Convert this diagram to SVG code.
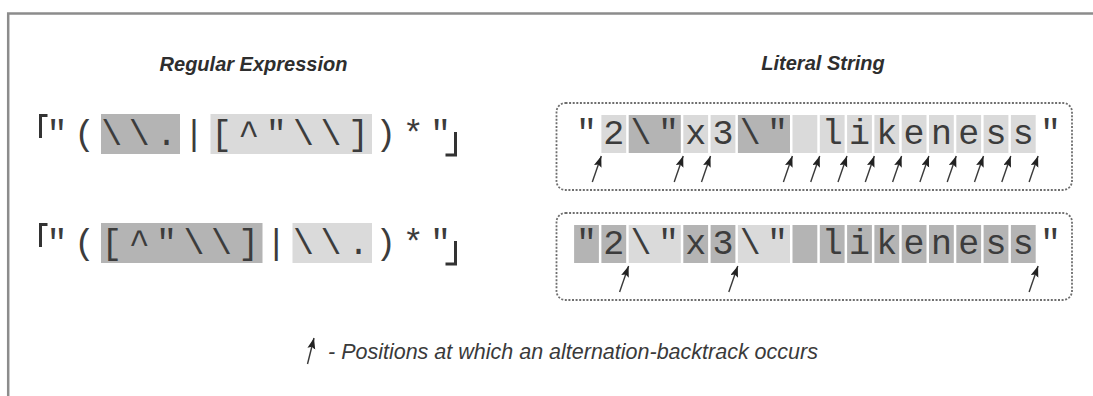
<svg xmlns="http://www.w3.org/2000/svg" width="1093" height="396" viewBox="0 0 1093 396">
<style>
.title{font-family:"Liberation Sans",Arial,sans-serif;font-weight:bold;font-style:italic;font-size:20px;fill:#2e2e2e;text-anchor:middle}
.mono{font-family:"Liberation Mono","Courier New",monospace;font-size:35px;fill:#3c3c3c;text-anchor:middle}
.lt{fill:#dadada}
.dk{fill:#b4b4b4}
.dash{fill:none;stroke:#6e6e6e;stroke-width:1.8;stroke-dasharray:2 1.6}
.corner{fill:none;stroke:#333;stroke-width:3}
.arr{stroke:#3a3a3a;stroke-width:1.4;marker-end:url(#head)}
.legend{font-family:"Liberation Sans",Arial,sans-serif;font-style:italic;font-size:21.5px;fill:#3a3a3a}
</style>
<defs>
<marker id="head" markerUnits="userSpaceOnUse" markerWidth="12" markerHeight="9" refX="11" refY="4" orient="auto">
<path d="M0,0 L11,4 L0,8 L2,4 z" fill="#222"/>
</marker>
</defs>
<rect width="1093" height="396" fill="#fff"/>
<g id="frame"><path d="M8.2,396 V13.5 H1093" fill="none" stroke="#8c8c8c" stroke-width="2.5"/></g>

<g id="title-regex"><text class="title" x="253.5" y="71">Regular Expression</text></g>
<g id="title-literal"><text class="title" x="823" y="70">Literal String</text></g>

<g id="regex1">
<rect class="dk" x="101" y="114" width="79" height="40"/>
<rect class="lt" x="210.5" y="114" width="161.5" height="40"/>
<path class="corner" d="M40.5,138 V115.5 H47.5"/>
<path class="corner" d="M445.5,155 H455.5 V132"/>
<text class="mono" x="57 84.4 111.8 139.2 166.6 194 221.4 248.8 276.2 303.6 331 358.4 385.8 413.2 440.6" y="145">"(\\.|[^"\\])*"</text>
</g>

<g id="regex2">
<rect class="dk" x="101" y="223" width="161.5" height="40"/>
<rect class="lt" x="292.5" y="223" width="79.5" height="40"/>
<path class="corner" d="M40.5,247 V224.5 H47.5"/>
<path class="corner" d="M445.5,264 H455.5 V241"/>
<text class="mono" x="57 84.4 111.8 139.2 166.6 194 221.4 248.8 276.2 303.6 331 358.4 385.8 413.2 440.6" y="254">"([^"\\]|\\.)*"</text>
</g>

<g id="literal1">
<rect class="dash" x="556.5" y="103" width="515.5" height="87" rx="9"/>
<rect class="lt" x="601.4" y="115" width="24.8" height="38"/>
<rect class="dk" x="628.7" y="115" width="52.1" height="38"/>
<rect class="lt" x="683.3" y="115" width="24.8" height="38"/>
<rect class="lt" x="710.6" y="115" width="24.8" height="38"/>
<rect class="dk" x="737.9" y="115" width="52.1" height="38"/>
<rect class="lt" x="792.5" y="115" width="24.8" height="38"/>
<rect class="lt" x="819.8" y="115" width="24.8" height="38"/>
<rect class="lt" x="847.1" y="115" width="24.8" height="38"/>
<rect class="lt" x="874.4" y="115" width="24.8" height="38"/>
<rect class="lt" x="901.7" y="115" width="24.8" height="38"/>
<rect class="lt" x="929" y="115" width="24.8" height="38"/>
<rect class="lt" x="956.3" y="115" width="24.8" height="38"/>
<rect class="lt" x="983.6" y="115" width="24.8" height="38"/>
<rect class="lt" x="1010.9" y="115" width="24.8" height="38"/>
<text class="mono" x="586.5 613.8 641.1 668.4 695.7 723 750.3 777.6 804.9 832.2 859.5 886.8 914.1 941.4 968.7 996 1023.3 1050.6" y="144">"2\"x3\" likeness"</text>
</g>

<g id="literal2">
<rect class="dash" x="556.5" y="213" width="515.5" height="87" rx="9"/>
<rect class="dk" x="574.1" y="225" width="24.8" height="38"/>
<rect class="dk" x="601.4" y="225" width="24.8" height="38"/>
<rect class="lt" x="628.7" y="225" width="52.1" height="38"/>
<rect class="dk" x="683.3" y="225" width="24.8" height="38"/>
<rect class="dk" x="710.6" y="225" width="24.8" height="38"/>
<rect class="lt" x="737.9" y="225" width="52.1" height="38"/>
<rect class="dk" x="792.5" y="225" width="24.8" height="38"/>
<rect class="dk" x="819.8" y="225" width="24.8" height="38"/>
<rect class="dk" x="847.1" y="225" width="24.8" height="38"/>
<rect class="dk" x="874.4" y="225" width="24.8" height="38"/>
<rect class="dk" x="901.7" y="225" width="24.8" height="38"/>
<rect class="dk" x="929" y="225" width="24.8" height="38"/>
<rect class="dk" x="956.3" y="225" width="24.8" height="38"/>
<rect class="dk" x="983.6" y="225" width="24.8" height="38"/>
<rect class="dk" x="1010.9" y="225" width="24.8" height="38"/>
<text class="mono" x="586.5 613.8 641.1 668.4 695.7 723 750.3 777.6 804.9 832.2 859.5 886.8 914.1 941.4 968.7 996 1023.3 1050.6" y="254">"2\"x3\" likeness"</text>
</g>

<g id="connectors">
<line class="arr" x1="592.3" y1="182" x2="601.3" y2="156"/>
<line class="arr" x1="674.2" y1="182" x2="683.2" y2="156"/>
<line class="arr" x1="701.5" y1="182" x2="710.5" y2="156"/>
<line class="arr" x1="783.4" y1="182" x2="792.4" y2="156"/>
<line class="arr" x1="810.7" y1="182" x2="819.7" y2="156"/>
<line class="arr" x1="838" y1="182" x2="847" y2="156"/>
<line class="arr" x1="865.3" y1="182" x2="874.3" y2="156"/>
<line class="arr" x1="892.6" y1="182" x2="901.6" y2="156"/>
<line class="arr" x1="919.9" y1="182" x2="928.9" y2="156"/>
<line class="arr" x1="947.2" y1="182" x2="956.2" y2="156"/>
<line class="arr" x1="974.5" y1="182" x2="983.5" y2="156"/>
<line class="arr" x1="1001.8" y1="182" x2="1010.8" y2="156"/>
<line class="arr" x1="1029.1" y1="182" x2="1038.1" y2="156"/>
<line class="arr" x1="619.6" y1="292" x2="628.6" y2="266"/>
<line class="arr" x1="728.8" y1="292" x2="737.8" y2="266"/>
<line class="arr" x1="1029.1" y1="292" x2="1038.1" y2="266"/>
</g>

<g id="legend">
<line class="arr" x1="307.5" y1="364" x2="314" y2="338"/>
<text class="legend" x="328" y="359">- Positions at which an alternation-backtrack occurs</text>
</g>
</svg>
